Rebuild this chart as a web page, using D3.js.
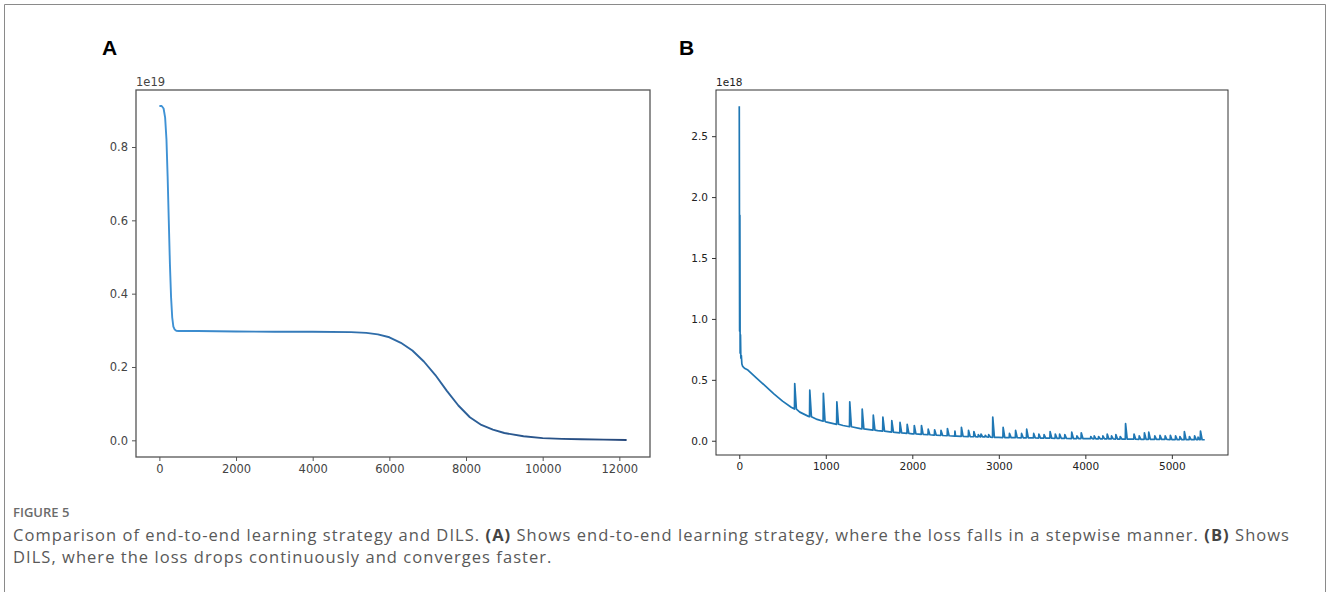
<!DOCTYPE html>
<html>
<head>
<meta charset="utf-8">
<script src="https://cdn.jsdelivr.net/npm/d3@7"></script>
<style>
  body { margin: 0; background: #fff; }
  svg { display: block; }
</style>
</head>
<body>
<div class="chart"></div>
<script>
// panel A : end-to-end strategy (loss x 1e19)
var iterA = [0, 60, 110, 150, 185, 215, 245, 275, 305, 335, 365, 400, 440, 500, 1000, 2000, 3000, 4000, 5000, 5400, 5700, 6000, 6300, 6600, 6900, 7200, 7500, 7800, 8100, 8400, 8700, 9000, 9500, 10000, 10500, 11000, 11600, 12190];
var lossA = [0.912, 0.912, 0.905, 0.88, 0.82, 0.72, 0.6, 0.48, 0.39, 0.335, 0.31, 0.302, 0.299, 0.298, 0.298, 0.297, 0.296, 0.296, 0.295, 0.293, 0.289, 0.281, 0.266, 0.245, 0.215, 0.178, 0.135, 0.095, 0.063, 0.042, 0.029, 0.02, 0.011, 0.006, 0.004, 0.003, 0.002, 0.001];
var xTicksA = [0, 2000, 4000, 6000, 8000, 10000, 12000];
var yTicksA = [0.0, 0.2, 0.4, 0.6, 0.8];

// panel B : DILS (loss x 1e18), smooth part
var baseIterB = [0, 4, 7, 10, 14, 18, 24, 30, 40, 60, 100, 200, 300, 400, 500, 600, 700, 800, 900, 1000, 1200, 1400, 1600, 1800, 2000, 2250, 2500, 2750, 3000, 3500, 4000, 4500, 5000, 5380];
var baseLossB = [2.745, 0.9, 1.85, 0.72, 0.87, 0.68, 0.7, 0.63, 0.61, 0.595, 0.58, 0.515, 0.45, 0.385, 0.325, 0.275, 0.235, 0.2, 0.175, 0.155, 0.125, 0.1, 0.083, 0.068, 0.057, 0.046, 0.038, 0.032, 0.027, 0.021, 0.017, 0.013, 0.01, 0.008];
// panel B : spikes (start iteration, peak, level at foot)
var spikeIterB = [638, 812, 969, 1125, 1274, 1418, 1546, 1657, 1760, 1855, 1938, 2020, 2103, 2181, 2255, 2329, 2403, 2490, 2565, 2647, 2709, 2760, 2791, 2840, 2880, 2927, 3047, 3120, 3191, 3260, 3319, 3400, 3460, 3520, 3590, 3650, 3700, 3760, 3840, 3900, 3950, 4060, 4100, 4150, 4200, 4250, 4300, 4350, 4400, 4462, 4560, 4620, 4680, 4730, 4800, 4860, 4920, 4980, 5040, 5090, 5142, 5200, 5260, 5300, 5328];
var spikePeakB = [0.47, 0.415, 0.39, 0.32, 0.32, 0.26, 0.21, 0.195, 0.165, 0.15, 0.135, 0.125, 0.125, 0.095, 0.09, 0.085, 0.1, 0.08, 0.11, 0.085, 0.075, 0.05, 0.055, 0.045, 0.05, 0.195, 0.11, 0.06, 0.085, 0.06, 0.095, 0.06, 0.055, 0.05, 0.075, 0.055, 0.055, 0.05, 0.07, 0.04, 0.065, 0.035, 0.04, 0.035, 0.04, 0.055, 0.04, 0.05, 0.035, 0.14, 0.055, 0.04, 0.065, 0.07, 0.04, 0.045, 0.04, 0.045, 0.04, 0.035, 0.075, 0.035, 0.04, 0.03, 0.08];
var spikeFootB = [0.26, 0.197, 0.16, 0.135, 0.115, 0.098, 0.087, 0.079, 0.071, 0.065, 0.06, 0.056, 0.052, 0.049, 0.046, 0.043, 0.041, 0.038, 0.036, 0.034, 0.033, 0.032, 0.032, 0.031, 0.03, 0.028, 0.026, 0.026, 0.025, 0.024, 0.024, 0.023, 0.022, 0.021, 0.021, 0.02, 0.02, 0.019, 0.018, 0.018, 0.018, 0.017, 0.016, 0.016, 0.016, 0.015, 0.015, 0.014, 0.014, 0.013, 0.013, 0.012, 0.012, 0.012, 0.011, 0.011, 0.011, 0.01, 0.01, 0.01, 0.009, 0.009, 0.009, 0.008, 0.008];
var xTicksB = [0, 1000, 2000, 3000, 4000, 5000];
var yTicksB = [0.0, 0.5, 1.0, 1.5, 2.0, 2.5];

var captionTitle = "FIGURE 5";

function init(){
  var svg = d3.select(".chart")
              .append("svg")
              .attr("width", 1328)
              .attr("height", 592);

  // outer frame
  svg.append("path")
      .attr("d", "M4.5,600V4.5H1325.5V600")
      .attr("fill", "none")
      .attr("stroke", "#8a8a8a")
      .attr("stroke-width", 1);

  // gradient for panel A line (light blue -> dark blue)
  var grad = svg.append("defs").append("linearGradient")
                .attr("id", "gradA")
                .attr("gradientUnits", "userSpaceOnUse")
                .attr("x1", 160).attr("x2", 620)
                .attr("y1", 0).attr("y2", 0);
  grad.append("stop").attr("offset", 0).attr("stop-color", "#3f93d6");
  grad.append("stop").attr("offset", 0.5).attr("stop-color", "#2e6aa6");
  grad.append("stop").attr("offset", 1).attr("stop-color", "#27497c");

  var dataA = iterA.map(function(d, i){ return [d, lossA[i]]; });
  drawPanel(svg, {
    left: 136, right: 650, top: 90, bottom: 457,
    xDomain: [-610, 12800], yDomain: [-0.0455, 0.9555],
    xTicks: xTicksA, yTicks: yTicksA,
    data: dataA, label: "A", labelX: 102, exp: "1e19",
    font: 11.5, tickColor: "#444", spine: "#555", spineW: 1.3,
    stroke: "url(#gradA)", strokeW: 1.9
  });

  var dataB = baseIterB.map(function(d, i){ return [d, baseLossB[i]]; });
  spikeIterB.forEach(function(d, i){
    dataB.push([d, spikeFootB[i]]);
    dataB.push([d + 3, spikePeakB[i]]);
    dataB.push([d + 22, spikeFootB[i]]);
  });
  dataB.sort(function(a, b){ return a[0] - b[0]; });

  drawPanel(svg, {
    left: 716, right: 1228, top: 90, bottom: 455,
    xDomain: [-269, 5649], yDomain: [-0.117, 2.879],
    xTicks: xTicksB, yTicks: yTicksB,
    data: dataB, label: "B", labelX: 679, exp: "1e18",
    font: 10.5, tickColor: "#222", spine: "#333", spineW: 1,
    stroke: "#1f77b4", strokeW: 1.7
  });

  caption(svg);
}

function drawPanel(svg, p){
  var x = d3.scaleLinear()
            .domain(p.xDomain)
            .range([p.left, p.right]);

  var y = d3.scaleLinear()
            .domain(p.yDomain)
            .range([p.bottom, p.top]);

  var xAxis = d3.axisBottom(x)
                .tickValues(p.xTicks)
                .tickSize(4)
                .tickPadding(4)
                .tickFormat(d3.format("d"));

  var yAxis = d3.axisLeft(y)
                .tickValues(p.yTicks)
                .tickSize(4)
                .tickPadding(4)
                .tickFormat(d3.format(".1f"));

  var gx = svg.append("g")
              .attr("transform", "translate(0," + p.bottom + ")")
              .style("font-family", "DejaVu Sans")
              .style("font-size", p.font + "px")
              .call(xAxis);

  var gy = svg.append("g")
              .attr("transform", "translate(" + p.left + ",0)")
              .style("font-family", "DejaVu Sans")
              .style("font-size", p.font + "px")
              .call(yAxis);

  [gx, gy].forEach(function(g){
    g.select(".domain").remove();
    g.selectAll(".tick line").attr("stroke", p.spine);
    g.selectAll(".tick text").attr("fill", p.tickColor);
  });

  var line = d3.line()
               .x(function(d){ return x(d[0]); })
               .y(function(d){ return y(d[1]); });

  svg.append("path")
      .datum(p.data)
      .attr("fill", "none")
      .attr("stroke", p.stroke)
      .attr("stroke-width", p.strokeW)
      .attr("stroke-linejoin", "round")
      .attr("d", line);

  // axes box
  svg.append("rect")
      .attr("x", p.left)
      .attr("y", p.top)
      .attr("width", p.right - p.left)
      .attr("height", p.bottom - p.top)
      .attr("fill", "none")
      .attr("stroke", p.spine)
      .attr("stroke-width", p.spineW);

  svg.append("text")
      .attr("x", p.left)
      .attr("y", p.top - 4)
      .style("font-family", "DejaVu Sans")
      .style("font-size", p.font + "px")
      .attr("fill", p.tickColor)
      .text(p.exp);

  svg.append("text")
      .attr("x", p.labelX)
      .attr("y", 55)
      .style("font-family", "Liberation Sans")
      .style("font-weight", "bold")
      .style("font-size", "21px")
      .attr("fill", "#000")
      .text(p.label);
}

function caption(svg){
  svg.append("text")
      .attr("x", 13)
      .attr("y", 517)
      .style("font-family", "Open Sans")
      .style("font-weight", 600)
      .style("font-size", "13px")
      .attr("fill", "#6b6b6b")
      .text(captionTitle);

  var lines = [
    [["Comparison of end-to-end learning strategy and DILS. ", 400], ["(A)", 700], [" Shows end-to-end learning strategy, where the loss falls in a stepwise manner. ", 400], ["(B)", 700], [" Shows", 400]],
    [["DILS, where the loss drops continuously and converges faster.", 400]]
  ];

  var texts = lines.map(function(parts, i){
    var t = svg.append("text")
                .attr("x", 13)
                .attr("y", 541 + i * 22)
                .style("font-family", "Open Sans")
                .style("font-size", "16.5px")
                .attr("fill", "#595959");
    parts.forEach(function(s){
      t.append("tspan")
        .style("font-weight", s[1])
        .attr("fill", s[1] > 400 ? "#444" : "#595959")
        .text(s[0]);
    });
    return t;
  });

  // the journal font is wider; spread letters so line 1 reaches x = 1290
  var first = texts[0].node();
  var n = first.textContent.length;
  var extra = (1277 - first.getComputedTextLength()) / n;
  texts.forEach(function(t){ t.style("letter-spacing", extra + "px"); });
}

window.onload = init;
</script>
</body>
</html>
